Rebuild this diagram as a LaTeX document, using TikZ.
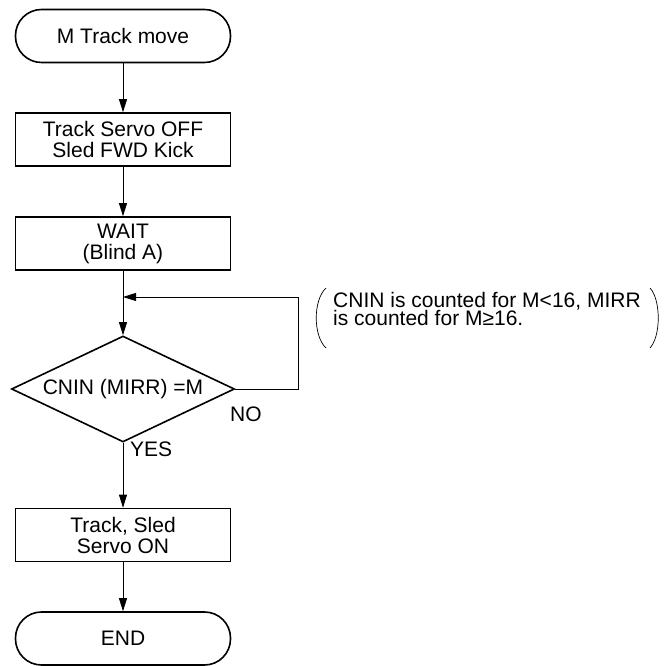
\documentclass[tikz,border=0pt]{standalone}
\usepackage{fontspec}
\setmainfont{Liberation Sans}
\usetikzlibrary{shapes.geometric,arrows.meta}
\begin{document}
\begin{tikzpicture}[x=1pt,y=1pt,
  font=\fontsize{21}{21}\selectfont,
  boxstyle/.style={draw, line width=1.6pt, minimum width=215pt, minimum height=53pt, inner sep=0pt, align=center},
  termstyle/.style={draw, line width=1.6pt, rounded corners=26pt, minimum width=215pt, minimum height=53pt, inner sep=0pt, align=center},
  decstyle/.style={draw, diamond, line width=1.6pt, aspect=2.1, minimum width=223pt, minimum height=106pt, inner sep=0pt},
  flow/.style={line width=0.8pt, -{Triangle[length=13pt,width=8pt]}},
  plainline/.style={line width=0.8pt},
  parenline/.style={line width=0.7pt}
]
\useasboundingbox (0,0) rectangle (665,666);
\node[termstyle] (start) at (123,630) {M Track move};
\node[boxstyle] (b1) at (123,526.5) {Track Servo OFF\\Sled FWD Kick};
\node[boxstyle] (b2) at (123,422.5) {WAIT\\(Blind A)};
\node[decstyle] (dec) at (123,277) {CNIN (MIRR) =M};
\node[boxstyle] (b3) at (123,131) {Track, Sled\\Servo ON};
\node[termstyle] (stop) at (123,27.5) {END};
\coordinate (junc) at (123,369);
\coordinate (loopa) at (298,277);
\coordinate (loopb) at (298,369);
\draw[flow] (start) -- (b1);
\draw[flow] (b1) -- (b2);
\draw[plainline] (b2) -- (junc);
\draw[flow] (junc) -- (dec.north);
\draw[plainline] (dec.east) -- (loopa) -- (loopb);
\draw[flow] (loopb) -- (junc);
\draw[flow] (dec.south) -- (b3);
\draw[flow] (b3) -- (stop);
\node[anchor=base west, inner sep=0pt] (nolab) at (230,244) {NO};
\node[anchor=base west, inner sep=0pt] (yeslab) at (130,209) {YES};
\node[anchor=base west, inner sep=0pt, align=left, font=\fontsize{21}{13.8}\selectfont] (note) at (333,340) {CNIN is counted for M<16, MIRR\\is counted for M≥16.};
\coordinate (lpt) at (326,378);
\coordinate (lpb) at (326,318);
\coordinate (rpt) at (650,378);
\coordinate (rpb) at (650,318);
\draw[parenline] (lpt) .. controls (313,366) and (313,330) .. (lpb);
\draw[parenline] (rpt) .. controls (661,366) and (661,330) .. (rpb);
\end{tikzpicture}
\end{document}
